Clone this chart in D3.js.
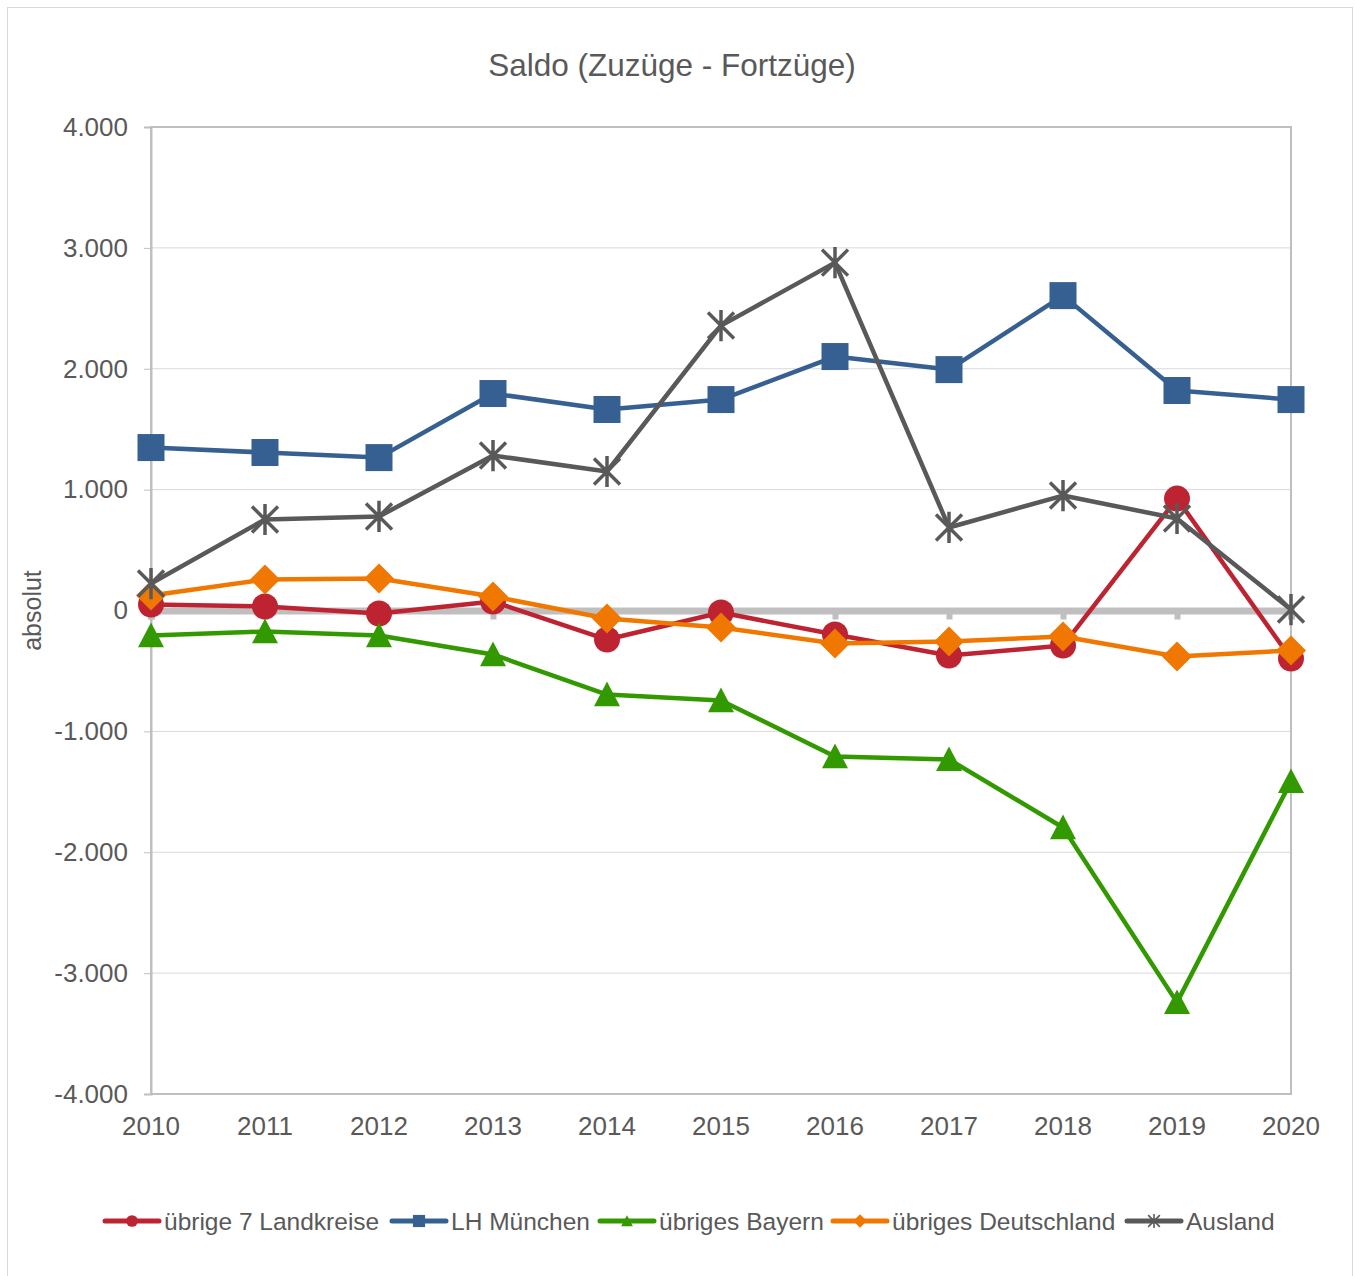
<!DOCTYPE html>
<html>
<head>
<meta charset="utf-8">
<script src="https://cdn.jsdelivr.net/npm/d3@7"></script>
<style>
  body { margin: 0; background: #fff; }
  svg text { font-family: "Liberation Sans", Arial, sans-serif; fill: #595959; }
</style>
</head>
<body>
<div id="chart"></div>
<script>
const WIDTH = 1355;
const HEIGHT = 1276;

// Daten
const jahre = ["2010", "2011", "2012", "2013", "2014", "2015", "2016", "2017", "2018", "2019", "2020"];
const yTicks = [-4000, -3000, -2000, -1000, 0, 1000, 2000, 3000, 4000];

const landkreise = [50, 33, -25, 74, -240, -17, -199, -372, -290, 926, -397];
const muenchen = [1348, 1307, 1265, 1795, 1663, 1745, 2101, 1993, 2605, 1820, 1745];
const bayern = [-207, -174, -207, -364, -695, -744, -1208, -1232, -1795, -3242, -1414];
const deutschland = [124, 256, 265, 116, -66, -141, -273, -256, -215, -380, -331];
const ausland = [223, 753, 778, 1282, 1150, 2357, 2878, 687, 951, 761, 8];

const serien = [
  { name: "übrige 7 Landkreise", werte: landkreise, farbe: "#be2332", marker: "circle" },
  { name: "LH München", werte: muenchen, farbe: "#376092", marker: "square" },
  { name: "übriges Bayern", werte: bayern, farbe: "#339900", marker: "triangle" },
  { name: "übriges Deutschland", werte: deutschland, farbe: "#f07800", marker: "diamond" },
  { name: "Ausland", werte: ausland, farbe: "#595959", marker: "star" }
];

const SVG = d3.select("#chart").append("svg")
  .attr("width", WIDTH)
  .attr("height", HEIGHT);

// Rahmen
SVG.append("rect")
  .attr("x", 7.5).attr("y", 7.5)
  .attr("width", 1345).attr("height", 1280)
  .attr("fill", "white")
  .attr("stroke", "#d9d9d9");

const LEFT = 151, RIGHT = 1291, TOP = 127, BOTTOM = 1094;

const x = d3.scalePoint().domain(jahre).range([LEFT, RIGHT]);
const y = d3.scaleLinear().domain([-4000, 4000]).range([BOTTOM, TOP]);

// deutsches Zahlenformat mit normalem Bindestrich
const fmt = d => d3.format(",")(d).replace(/,/g, ".").replace("\u2212", "-");

// Gitterlinien
SVG.append("g")
  .selectAll("line")
  .data(yTicks)
  .join("line")
  .attr("x1", LEFT).attr("x2", RIGHT)
  .attr("y1", d => y(d)).attr("y2", d => y(d))
  .attr("stroke", "#d9d9d9")
  .attr("stroke-width", 1);

// Plotbereich-Rahmen
SVG.append("rect")
  .attr("x", LEFT).attr("y", TOP)
  .attr("width", RIGHT - LEFT).attr("height", BOTTOM - TOP)
  .attr("fill", "none")
  .attr("stroke", "#bfbfbf")
  .attr("stroke-width", 2);

// Y-Achse
const yAxis = SVG.append("g")
  .attr("transform", `translate(${LEFT},0)`)
  .call(d3.axisLeft(y).tickValues(yTicks).tickFormat(fmt).tickSize(7).tickPadding(16));
yAxis.select(".domain").attr("stroke", "#bfbfbf").attr("stroke-width", 2);
yAxis.selectAll(".tick line").attr("stroke", "#bfbfbf").attr("stroke-width", 1);
yAxis.selectAll(".tick text")
  .style("font-size", "26px")
  .attr("fill", "#595959");

// Null-Linie (X-Achse)
const xAxis = SVG.append("g")
  .attr("transform", `translate(0,${y(0)})`)
  .call(d3.axisBottom(x).tickSize(9).tickFormat(""));
xAxis.select(".domain").attr("stroke", "#bfbfbf").attr("stroke-width", 7);
xAxis.selectAll(".tick line").attr("stroke", "#bfbfbf").attr("stroke-width", 6);

// X-Beschriftung unten
SVG.append("g")
  .selectAll("text")
  .data(jahre)
  .join("text")
  .attr("x", d => x(d))
  .attr("y", BOTTOM + 41)
  .attr("text-anchor", "middle")
  .style("font-size", "26px")
  .text(d => d);

// Titel
SVG.append("text")
  .attr("x", 672)
  .attr("y", 76)
  .attr("text-anchor", "middle")
  .style("font-size", "31.5px")
  .text("Saldo (Zuzüge - Fortzüge)");

// Achsentitel
SVG.append("text")
  .attr("transform", `translate(41,${y(0)}) rotate(-90)`)
  .attr("text-anchor", "middle")
  .style("font-size", "25px")
  .text("absolut");

function zeichneMarker(g, typ, farbe, s) {
  if (typ === "circle") {
    g.append("circle").attr("r", 13 * s).attr("fill", farbe);
  } else if (typ === "square") {
    g.append("rect")
      .attr("x", -13.5 * s).attr("y", -13.5 * s)
      .attr("width", 27 * s).attr("height", 27 * s)
      .attr("fill", farbe);
  } else if (typ === "triangle") {
    const h = 13 * s;
    g.append("path")
      .attr("d", `M0,${-h} L${h},${h * 0.9} L${-h},${h * 0.9} Z`)
      .attr("fill", farbe);
  } else if (typ === "diamond") {
    const h = 15 * s;
    g.append("path")
      .attr("d", `M0,${-h} L${h},0 L0,${h} L${-h},0 Z`)
      .attr("fill", farbe);
  } else if (typ === "star") {
    const h = 13 * s;
    g.append("path")
      .attr("d", `M${-h},${-h} L${h},${h} M${-h},${h} L${h},${-h} M0,${-h * 1.2} L0,${h * 1.2}`)
      .attr("stroke", farbe)
      .attr("stroke-width", 3.5 * s)
      .attr("fill", "none");
  }
}

const linie = d3.line()
  .x((d, i) => x(jahre[i]))
  .y(d => y(d));

serien.forEach(s => {
  const G = SVG.append("g");
  G.append("path")
    .datum(s.werte)
    .attr("d", linie)
    .attr("fill", "none")
    .attr("stroke", s.farbe)
    .attr("stroke-width", 4.5)
    .attr("stroke-linejoin", "round");
  G.selectAll("g.pkt")
    .data(s.werte)
    .join("g")
    .attr("class", "pkt")
    .attr("transform", (d, i) => `translate(${x(jahre[i])},${y(d)})`)
    .each(function() { zeichneMarker(d3.select(this), s.marker, s.farbe, 1); });
});

// Legende
const legendeX = [105, 392, 600, 833, 1127];
const LEG_Y = 1221;
serien.forEach((s, i) => {
  const G = SVG.append("g").attr("transform", `translate(${legendeX[i]},${LEG_Y})`);
  G.append("line")
    .attr("x1", 0).attr("x2", 54)
    .attr("stroke", s.farbe)
    .attr("stroke-width", 5)
    .attr("stroke-linecap", "round");
  const M = G.append("g").attr("transform", "translate(27,0)");
  zeichneMarker(M, s.marker, s.farbe, 0.45);
  G.append("text")
    .attr("x", 59)
    .attr("y", 9)
    .style("font-size", "24.5px")
    .text(s.name);
});
</script>
</body>
</html>
